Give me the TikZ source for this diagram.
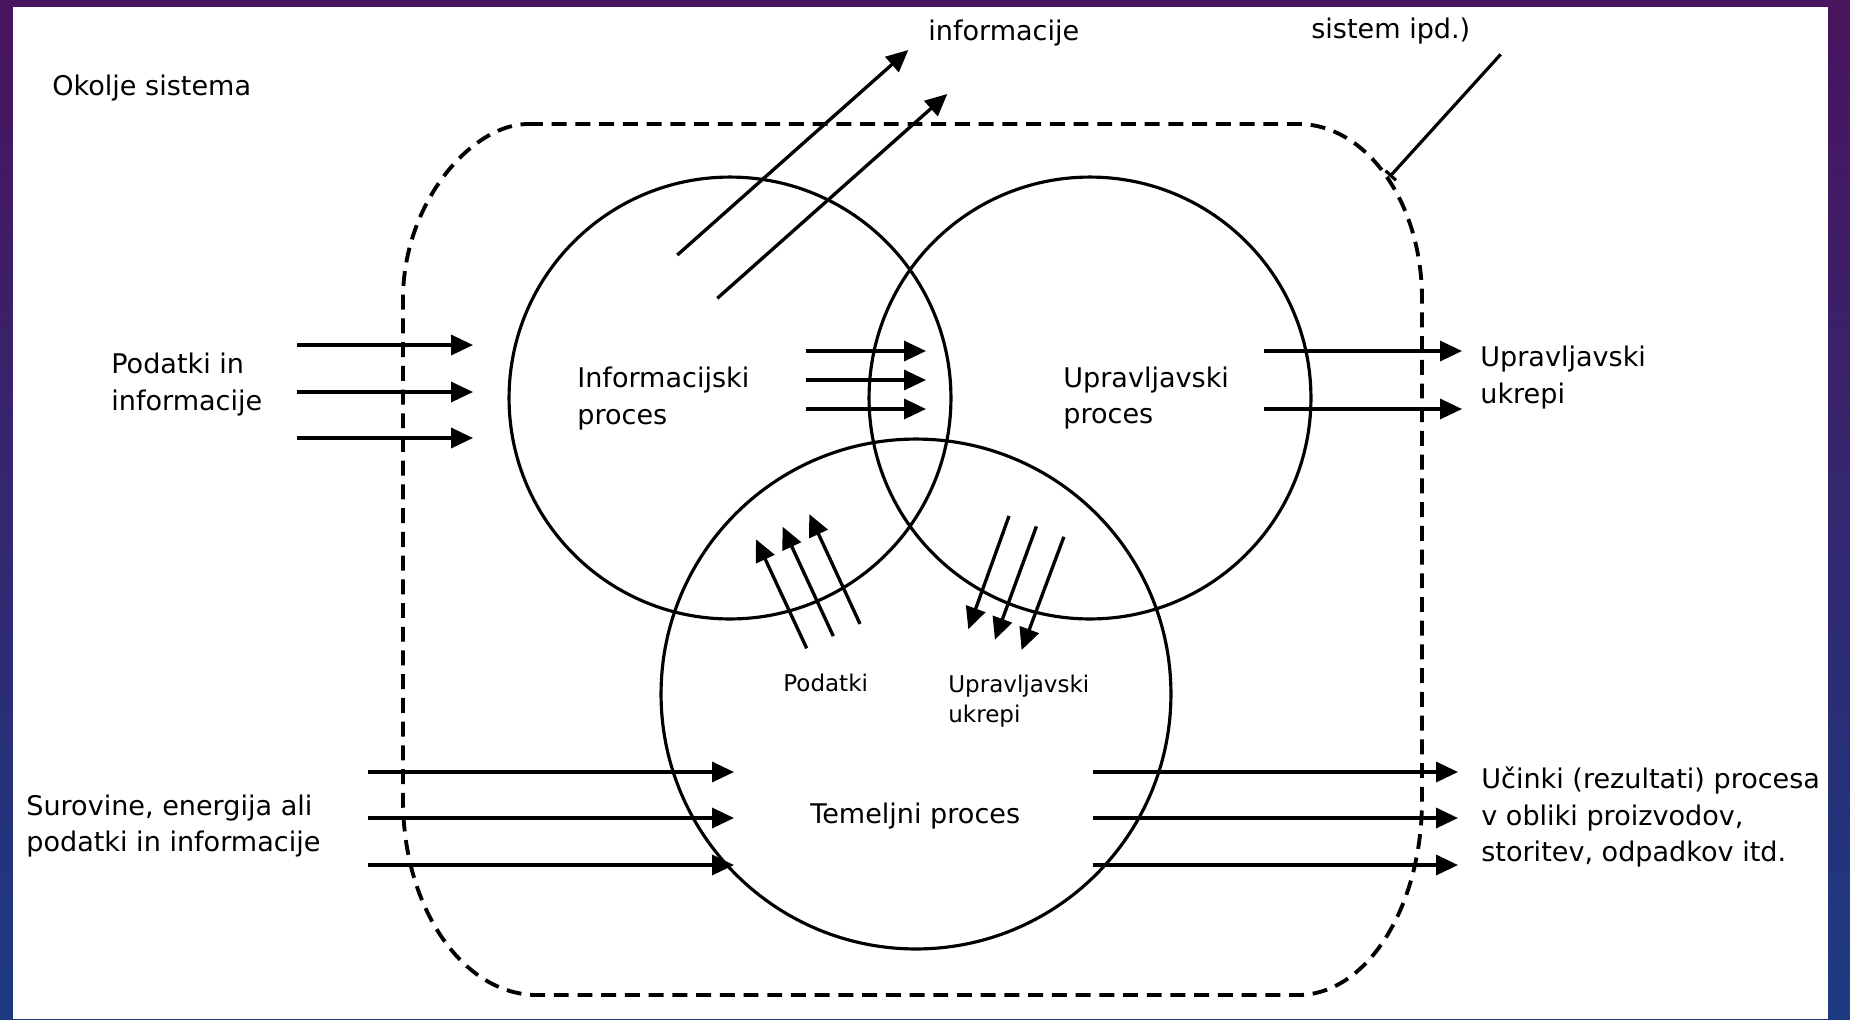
\documentclass[tikz,border=0pt]{standalone}
\usepackage{fontspec}
\setmainfont{DejaVu Sans}
\usetikzlibrary{arrows.meta}

\definecolor{ozadjeZg}{HTML}{4A145E}
\definecolor{ozadjeSp}{HTML}{1C3A82}

\begin{document}
\begin{tikzpicture}[
    x=0.02cm, y=-0.02cm,
    proc/.style={circle, draw, line width=1.8pt, inner sep=0pt, minimum size=#1},
    meja/.style={draw, line width=2.2pt, dash pattern=on 8.5pt off 5pt},
    flow/.style={line width=1.9pt, -{Triangle[length=12.5pt, width=11.4pt]}},
    lbl/.style={inner sep=0pt, align=left, anchor=west, font=\fontsize{15.4}{21}\selectfont},
    mali/.style={inner sep=0pt, align=left, anchor=west, font=\fontsize{13.1}{17.1}\selectfont}
]

% Ozadje
\useasboundingbox (0,0) rectangle (1850,1019);
\shade[top color=ozadjeZg, bottom color=ozadjeSp] (0,0) rectangle (1850,1019);
\fill[white] (13,7) rectangle (1828,1019);

% Meja sistema
\draw[meja] (528,124) -- (1298,124)
    .. controls (1366.4,124) and (1422,202.4) .. (1422,299) -- (1422,800)
    .. controls (1422,907.6) and (1366.4,995) .. (1298,995) -- (537,995)
    .. controls (463,995) and (403,907.6) .. (403,800) -- (403,299)
    .. controls (403,202.4) and (472,124) .. (528,124) -- cycle;

% Procesi
\node[proc=8.84cm] (info) at (730,398) {};
\node[proc=8.84cm] (upr) at (1090,398) {};
\node[proc=10.2cm] (temelj) at (916,694) {};

% Besedila
\node[lbl] (okolje) at (52,88) {Okolje sistema};
\node[lbl] (izhinfo) at (928,33) {informacije};
\node[lbl] (sistem) at (1311,31) {sistem ipd.)};
\node[lbl] (vhpod) at (111,384.5) {Podatki in\\informacije};
\node[lbl] (infotxt) at (577,398.5) {Informacijski\\proces};
\node[lbl] (uprtxt) at (1063,398) {Upravljavski\\proces};
\node[lbl] (izukrepi) at (1480,377.7) {Upravljavski\\ukrepi};
\node[mali] (podatki) at (783,683) {Podatki};
\node[mali] (ukrepi) at (948,701) {Upravljavski\\ukrepi};
\node[lbl] (temtxt) at (810,816) {Temeljni proces};
\node[lbl] (surovine) at (26,826) {Surovine, energija ali\\podatki in informacije};
\node[lbl] (ucinki) at (1481,817) {Učinki (rezultati) procesa\\v obliki proizvodov,\\storitev, odpadkov itd.};

% Puscice
\foreach \y [count=\i] in {345,392,438} {
    \coordinate (vpA\i) at (297,\y);
    \coordinate (vpB\i) at (473,\y);
    \draw[flow] (vpA\i) -- (vpB\i);
}
\foreach \y [count=\i] in {351,380,409} {
    \coordinate (iuA\i) at (806,\y);
    \coordinate (iuB\i) at (926,\y);
    \draw[flow] (iuA\i) -- (iuB\i);
}
\foreach \y [count=\i] in {351,409} {
    \coordinate (ukA\i) at (1264,\y);
    \coordinate (ukB\i) at (1462,\y);
    \draw[flow] (ukA\i) -- (ukB\i);
}
\foreach \y [count=\i] in {772,818,865} {
    \coordinate (surA\i) at (368,\y);
    \coordinate (surB\i) at (734,\y);
    \draw[flow] (surA\i) -- (surB\i);
    \coordinate (ucA\i) at (1093,\y);
    \coordinate (ucB\i) at (1458,\y);
    \draw[flow] (ucA\i) -- (ucB\i);
}
\foreach \dx [count=\i] in {0,26.6,53.3} {
    \coordinate (podA\i) at (806.7+\dx,648.3-12.2*\i+12.2);
    \coordinate (podB\i) at (756+\dx,539.3-12.6*\i+12.6);
    \draw[flow] (podA\i) -- (podB\i);
    \coordinate (ukrA\i) at (1009+\dx*1.03,516+10.4*\i-10.4);
    \coordinate (ukrB\i) at (968.3+\dx,629.3+10.4*\i-10.4);
    \draw[flow] (ukrA\i) -- (ukrB\i);
}
\coordinate (ioA1) at (677.3,255);
\coordinate (ioB1) at (908.3,50);
\coordinate (ioA2) at (717.3,298.3);
\coordinate (ioB2) at (947.3,94);
\draw[flow] (ioA1) -- (ioB1);
\draw[flow] (ioA2) -- (ioB2);

% Kazalec na mejo
\coordinate (kazA) at (1500.7,54.3);
\coordinate (kazB) at (1389.7,176.7);
\draw[line width=1.8pt, -{Bar[width=8pt]}] (kazA) -- (kazB);

\end{tikzpicture}
\end{document}
